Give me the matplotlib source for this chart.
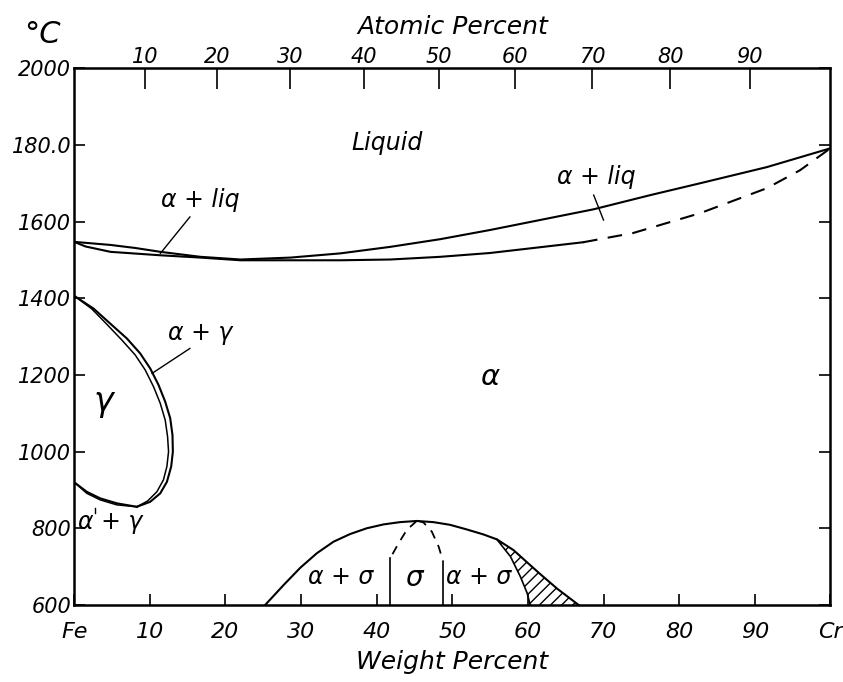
#Fe-Cr phase diagram, redrawn from the hand drawing
import numpy as np
import matplotlib.pyplot as plt
from matplotlib.patches import Polygon

plt.rcParams['font.family'] = ['DejaVu Sans']
plt.rcParams['font.style'] = 'italic'

#liquidus (upper curve) and solidus (lower curve), weight % Cr vs deg C
liq_wt = [0, 4.8, 8.1, 11.4, 16.7, 22.0, 28.6, 35.2, 41.8, 48.4, 55.0, 61.6, 68.7, 76.2, 82.8, 91.6, 100]
liq_T = [1547, 1539, 1531, 1521, 1508, 1501, 1506, 1517, 1534, 1554, 1578, 1604, 1632, 1669, 1700, 1742, 1791]
sol_wt = [0, 1.5, 4.8, 11.4, 16.7, 22.0, 35.2, 41.8, 48.4, 55.0, 61.6, 67.3]
sol_T = [1547, 1535, 1521, 1512, 1506, 1499, 1499, 1501, 1508, 1518, 1533, 1546]
sol_dash_wt = [67.3, 73.9, 82.8, 91.6, 96.0, 100]
sol_dash_T = [1546, 1570, 1622, 1687, 1734, 1791]

#gamma loop
gam_out_wt = [0.1, 2.56, 4.76, 6.97, 8.73, 10.05, 11.15, 12.04, 12.7, 13.0, 13.05, 12.83, 12.26, 11.38, 10.05, 8.29]
gam_out_T = [1405, 1373, 1334, 1295, 1256, 1217, 1174, 1130, 1087, 1043, 1000, 961, 921, 891, 869, 856]
gam_in_wt = [0.1, 2.34, 4.32, 6.3, 8.07, 9.39, 10.5, 11.38, 12.04, 12.35, 12.48, 12.26, 11.8, 10.93, 9.7, 8.29]
gam_in_T = [1405, 1372, 1332, 1291, 1252, 1213, 1169, 1126, 1082, 1039, 1000, 961, 926, 895, 871, 856]
gam_low_wt = [0, 1.68, 3.44, 5.64, 8.29]
gam_low_T = [920, 895, 878, 865, 856]
gam_low2_T = [920, 891, 874, 861, 856]

#sigma dome
dome_wt = [25.26, 27.7, 29.9, 32.1, 34.3, 36.5, 38.7, 40.9, 43.1, 45.3, 47.5, 49.7, 51.9, 54.1, 55.9,
           58.1, 59.9, 61.6, 63.9, 66.7]
dome_T = [600, 652, 697, 735, 765, 785, 800, 810, 816, 819, 816, 809, 797, 784, 771,
          743, 711, 681, 642, 600]
hatch_wt = [55.9, 57.7, 59.0, 59.9, 60.3]
hatch_T = [771, 726, 674, 631, 600]
sig_left_wt = [45.3, 44.0, 42.9, 41.8]
sig_left_T = [819, 796, 761, 722]
sig_right_wt = [45.5, 46.2, 47.3, 48.2, 48.8]
sig_right_T = [819, 815, 791, 752, 713]

wt_ticks = [0, 10, 20, 30, 40, 50, 60, 70, 80, 90, 100]
wt_labels = ['Fe', '10', '20', '30', '40', '50', '60', '70', '80', '90', 'Cr']
at_ticks = [10, 20, 30, 40, 50, 60, 70, 80, 90]
T_ticks = [600, 800, 1000, 1200, 1400, 1600, 1800, 2000]
T_labels = ['600', '800', '1000', '1200', '1400', '1600', '180.0', '2000']

M_CR = 52.00
M_FE = 55.85


def wt2at(w):
    w = np.clip(np.asarray(w, dtype=float), 0, 100)
    a = w / M_CR
    b = (100 - w) / M_FE
    return 100 * a / np.where(a + b == 0, 1, a + b)


def at2wt(x):
    x = np.clip(np.asarray(x, dtype=float), 0, 100)
    a = x * M_CR
    b = (100 - x) * M_FE
    return 100 * a / np.where(a + b == 0, 1, a + b)


fig = plt.figure(figsize=(8.43, 6.82), dpi=100)
ax = fig.add_axes([0.088, 0.113, 0.897, 0.787])
lw = 1.5

ax.plot(liq_wt, liq_T, 'k-', lw=lw)
ax.plot(sol_wt, sol_T, 'k-', lw=lw)
ax.plot(sol_dash_wt, sol_dash_T, 'k-', lw=lw, dashes=(7, 5))

ax.plot(gam_out_wt, gam_out_T, 'k-', lw=lw)
ax.plot(gam_in_wt, gam_in_T, 'k-', lw=1.1)
ax.plot(gam_low_wt, gam_low_T, 'k-', lw=lw)
ax.plot(gam_low_wt, gam_low2_T, 'k-', lw=1.1)

ax.plot(dome_wt, dome_T, 'k-', lw=lw)
ax.plot(hatch_wt, hatch_T, 'k-', lw=1.2)
ax.plot(sig_left_wt, sig_left_T, 'k-', lw=1.3, dashes=(5, 4))
ax.plot(sig_right_wt, sig_right_T, 'k-', lw=1.3, dashes=(5, 4))
ax.plot([sig_left_wt[-1], sig_left_wt[-1]], [sig_left_T[-1], 600], 'k-', lw=1.2)
ax.plot([sig_right_wt[-1], sig_right_wt[-1]], [sig_right_T[-1], 600], 'k-', lw=1.2)

#hatched area between dome and inner line
i0 = dome_wt.index(55.9)
verts = list(zip(hatch_wt, hatch_T)) + list(zip(dome_wt[i0:], dome_T[i0:]))[::-1]
ax.add_patch(Polygon(verts, closed=True, fill=False, hatch='///', lw=0, edgecolor='k'))

#labels and leader lines
tk = dict(fontsize=17, ha='center', va='center')
ax.text(41.4, 1804, 'Liquid', **tk)
ax.text(16.7, 1656, 'α + liq', **tk)
ax.plot([11.4, 15.3], [1517, 1612], 'k-', lw=1)
ax.text(69.1, 1717, 'α + liq', **tk)
ax.plot([68.7, 70.0], [1669, 1604], 'k-', lw=1)
ax.text(16.7, 1308, 'α + γ', **tk)
ax.plot([10.3, 15.3], [1204, 1269], 'k-', lw=1)
ax.text(3.9, 1130, 'γ', fontsize=24, ha='center', va='center')
ax.text(4.8, 817, 'α + γ', **tk)
ax.plot([2.7, 2.7], [840, 853], 'k-', lw=1)
ax.text(55.0, 1195, 'α', fontsize=21, ha='center', va='center')
ax.text(35.2, 674, 'α + σ', **tk)
ax.text(44.9, 670, 'σ', fontsize=20, ha='center', va='center')
ax.text(53.5, 674, 'α + σ', **tk)

ax.set_xlim(0, 100)
ax.set_ylim(600, 2000)
for s in ax.spines.values():
    s.set_linewidth(1.8)

ax.set_xticks(wt_ticks)
ax.set_xticklabels(wt_labels, fontsize=16)
ax.set_yticks(T_ticks)
ax.set_yticklabels(T_labels, fontsize=15)
ax.tick_params(axis='x', direction='in', length=8, width=1.2, pad=12)
ax.tick_params(axis='y', direction='in', length=8, width=1.2, pad=2, right=True)
ax.set_xlabel('Weight Percent', fontsize=18, labelpad=6)

sec = ax.secondary_xaxis('top', functions=(wt2at, at2wt))
sec.set_xticks(at_ticks)
sec.set_xticklabels([str(a) for a in at_ticks], fontsize=15)
sec.tick_params(direction='in', length=15, width=1.2, pad=1)
sec.set_xlabel('Atomic Percent', fontsize=18, labelpad=9)

fig.text(0.05, 0.95, '°C', fontsize=22, ha='center', va='center')

plt.savefig('out.png', dpi=100)
